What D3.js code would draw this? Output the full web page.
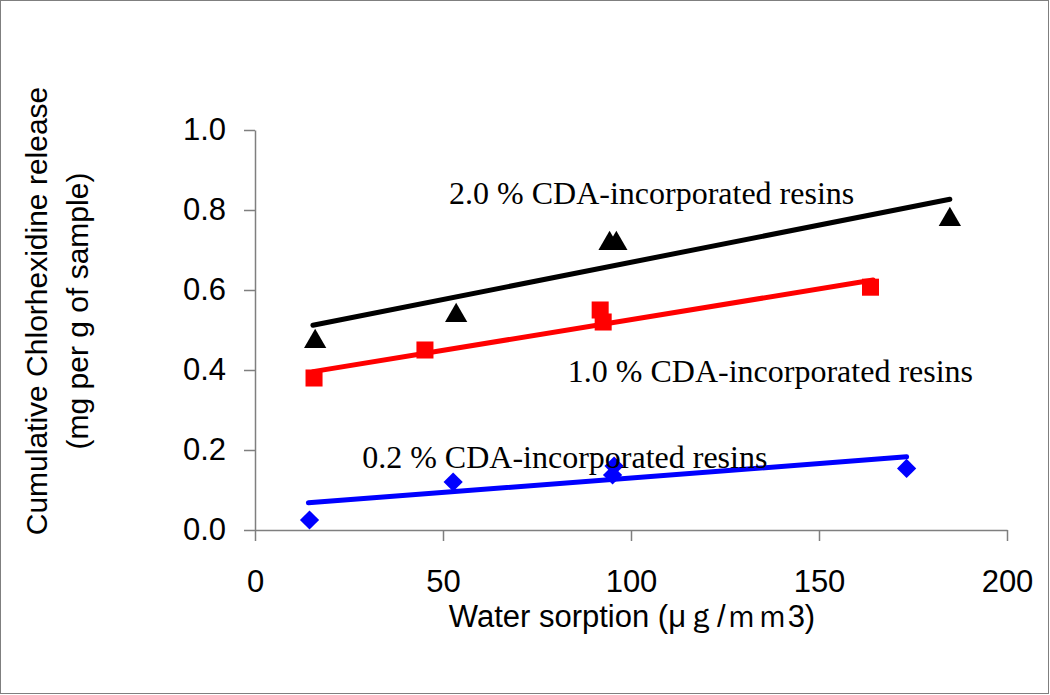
<!DOCTYPE html>
<html>
<head>
<meta charset="utf-8">
<script src="https://cdn.jsdelivr.net/npm/d3@7"></script>
<style>
  html, body { margin: 0; padding: 0; background: #fff; }
  svg { display: block; }
</style>
</head>
<body>
<svg id="chart" width="1050" height="695"></svg>
<script>
// ---- Data ----
const xTicks = [0, 50, 100, 150, 200];
const yTicks = [0.0, 0.2, 0.4, 0.6, 0.8, 1.0];

// 2.0 % CDA (black triangles)
const s20x = [16.0, 53.5, 94.3, 96.1, 184.8];
const s20y = [0.475, 0.54, 0.72, 0.72, 0.78];
const t20x = [15.4, 184.8];
const t20y = [0.512, 0.827];

// 1.0 % CDA (red squares)
const s10x = [15.7, 45.2, 91.8, 92.6, 163.7];
const s10y = [0.38, 0.45, 0.55, 0.52, 0.607];
const t10x = [15.4, 164.4];
const t10y = [0.396, 0.625];

// 0.2 % CDA (blue diamonds)
const s02x = [14.5, 52.7, 95.5, 95.1, 173.3];
const s02y = [0.025, 0.12, 0.16, 0.1375, 0.154];
const t02x = [14.2, 173.3];
const t02y = [0.068, 0.183];

const labelText = ["2.0 % CDA-incorporated resins", "1.0 % CDA-incorporated resins", "0.2 % CDA-incorporated resins"];
const labelX = [51.6, 83.2, 28.5];
const labelY = [0.815, 0.37, 0.155];

const xTitle = "Water sorption (\u03bc\uff47/\uff4d\uff4d3)";
const yTitle1 = "Cumulative Chlorhexidine release";
const yTitle2 = "(mg per g of sample)";

// ---- Layout ----
const svg = d3.select("#chart");
const W = 1050, H = 695;
const x = d3.scaleLinear().domain([0, 200]).range([255, 1007]);
const y = d3.scaleLinear().domain([0, 1]).range([530, 130]);
const axisColor = "#7f7f7f";
const sans = "'Liberation Sans', Arial, sans-serif";
const serif = "'Liberation Serif', 'Times New Roman', serif";

svg.append("rect").attr("x", 0).attr("y", 0).attr("width", W).attr("height", H).attr("fill", "#fff");
svg.append("rect").attr("x", 0.5).attr("y", 0.5).attr("width", 1048).attr("height", 693)
  .attr("fill", "none").attr("stroke", "#7f7f7f").attr("stroke-width", 1);

// Axes
const gx = svg.append("g").attr("transform", `translate(0,${y(0)})`)
  .call(d3.axisBottom(x).tickValues(xTicks).tickFormat(d3.format("d")).tickSize(11).tickSizeOuter(0).tickPadding(29));
const gy = svg.append("g").attr("transform", `translate(${x(0)},0)`)
  .call(d3.axisLeft(y).tickValues(yTicks).tickFormat(d3.format(".1f")).tickSize(11).tickSizeOuter(0).tickPadding(18));
[gx, gy].forEach(g => {
  g.selectAll("path, line").attr("stroke", axisColor).attr("stroke-width", 1.5);
  g.selectAll("text").attr("fill", "#000").style("font-family", sans).style("font-size", "31px");
});

// Trend lines
function trend(xs, ys, color) {
  const pts = xs.map((v, i) => [v, ys[i]]);
  svg.append("path").datum(pts)
    .attr("d", d3.line().x(d => x(d[0])).y(d => y(d[1])))
    .attr("fill", "none").attr("stroke", color).attr("stroke-width", 5).attr("stroke-linecap", "round");
}
trend(t20x, t20y, "#000000");
trend(t10x, t10y, "#ff0000");
trend(t02x, t02y, "#0000ff");

// Markers
const triSym = d3.symbol().type(d3.symbolTriangle).size(215);
svg.append("g").selectAll("path").data(s20x.map((v, i) => [v, s20y[i]])).join("path")
  .attr("transform", d => `translate(${x(d[0])},${y(d[1]) + 1.5})`)
  .attr("d", triSym).attr("fill", "#000");
svg.append("g").selectAll("path").data(s10x.map((v, i) => [v, s10y[i]])).join("path")
  .attr("transform", d => `translate(${x(d[0])},${y(d[1])})`)
  .attr("d", d3.symbol().type(d3.symbolSquare).size(290)).attr("fill", "#ff0000");
svg.append("g").selectAll("path").data(s02x.map((v, i) => [v, s02y[i]])).join("path")
  .attr("transform", d => `translate(${x(d[0])},${y(d[1])}) rotate(45)`)
  .attr("d", d3.symbol().type(d3.symbolSquare).size(185)).attr("fill", "#0000ff");

// Series labels
svg.append("g").selectAll("text").data(labelText).join("text")
  .attr("x", (d, i) => x(labelX[i])).attr("y", (d, i) => y(labelY[i]))
  .style("font-family", serif).style("font-size", "32px").attr("fill", "#000")
  .text(d => d);

// Axis titles
svg.append("text").attr("x", 632).attr("y", 627).attr("text-anchor", "middle")
  .style("font-family", sans).style("font-size", "31px").attr("fill", "#000").text(xTitle);
svg.append("text").attr("transform", "translate(47,311) rotate(-90)").attr("text-anchor", "middle")
  .style("font-family", sans).style("font-size", "30px").attr("fill", "#000").text(yTitle1);
svg.append("text").attr("transform", "translate(88,311) rotate(-90)").attr("text-anchor", "middle")
  .style("font-family", sans).style("font-size", "30px").attr("fill", "#000").text(yTitle2);
</script>
</body>
</html>
